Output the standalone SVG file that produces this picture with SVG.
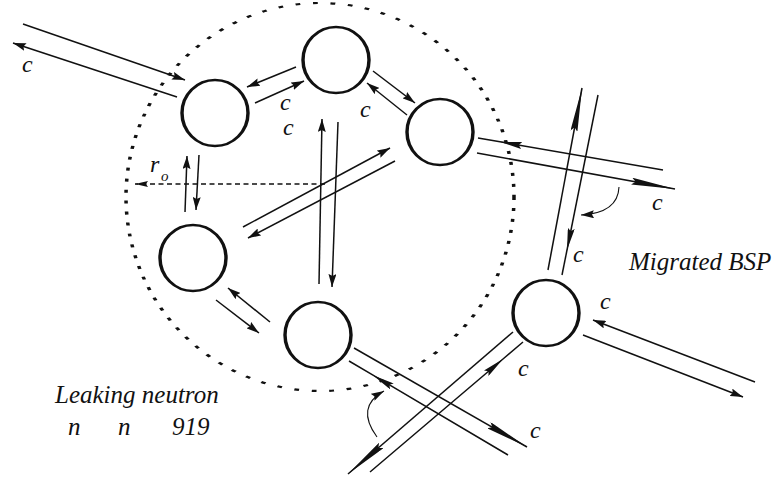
<svg xmlns="http://www.w3.org/2000/svg" width="776" height="480" viewBox="0 0 776 480">
<style>
.ln{fill:none;stroke:#111;stroke-width:1.5}
.arc{fill:none;stroke:#111;stroke-width:1.1}
.nd{fill:none;stroke:#111;stroke-width:2.3}
.t{font-family:"Liberation Serif","DejaVu Serif","Times New Roman",serif;font-style:italic;font-size:25px;fill:#111}
.c{font-family:"Liberation Serif","DejaVu Serif","Times New Roman",serif;font-style:italic;font-size:24px;fill:#111}
</style>
<defs>
<marker id="s" markerUnits="userSpaceOnUse" markerWidth="13" markerHeight="8" refX="13" refY="4" orient="auto"><path d="M0,0 L13,4 L0,8 L2,4 Z" fill="#111"/></marker>
<marker id="m" markerUnits="userSpaceOnUse" markerWidth="22" markerHeight="7" refX="22" refY="3.5" orient="auto"><path d="M0,0 L22,3.5 L0,7 L3,3.5 Z" fill="#111"/></marker>
<marker id="l" markerUnits="userSpaceOnUse" markerWidth="44" markerHeight="7" refX="44" refY="3.5" orient="auto"><path d="M0,0 L44,3.5 L0,7 L4,3.5 Z" fill="#111"/></marker>
<marker id="d" markerUnits="userSpaceOnUse" markerWidth="13" markerHeight="6" refX="13" refY="3" orient="auto"><path d="M0,0 L13,3 L0,6 L2,3 Z" fill="#111"/></marker>
</defs>
<rect width="776" height="480" fill="#fff"/>
<g id="boundary">
<ellipse cx="200" cy="197" rx="121.25" ry="194" transform="scale(1.6,1)" fill="none" stroke="#111" stroke-width="2.2" stroke-dasharray="3 8"/>
</g>
<g id="connectors">
<path class="ln" d="M23,24 L185,80" marker-end="url(#s)"/>
<path class="ln" d="M177,97 L13,43" marker-end="url(#s)"/>
<path class="ln" d="M296,67 L247,87" marker-end="url(#s)"/>
<path class="ln" d="M255,103 L304,81" marker-end="url(#s)"/>
<path class="ln" d="M373,71 L415,103" marker-end="url(#s)"/>
<path class="ln" d="M407,115 L367,83" marker-end="url(#s)"/>
<path class="ln" d="M319,284 L322,119" marker-end="url(#s)"/>
<path class="ln" d="M338,122 L332,287" marker-end="url(#s)"/>
<path class="ln" d="M243,227 L390,148" marker-end="url(#s)"/>
<path class="ln" d="M395,161 L248,238" marker-end="url(#s)"/>
<path class="ln" d="M185,212 L187,156" marker-end="url(#s)"/>
<path class="ln" d="M199,155 L196,210" marker-end="url(#s)"/>
<path class="ln" d="M216,300 L259,333" marker-end="url(#s)"/>
<path class="ln" d="M270,322 L228,288" marker-end="url(#s)"/>
<path class="ln" d="M663,170 L500,141.8 L478,138" marker-mid="url(#m)"/>
<path class="ln" d="M477,153 L675,189" marker-end="url(#l)"/>
<path class="ln" d="M548,270 L582,88" marker-end="url(#l)"/>
<path class="ln" d="M598,95 L567,250 L562,275" marker-mid="url(#m)"/>
<path class="ln" d="M513,332 L348,474" marker-end="url(#l)"/>
<path class="ln" d="M370,472 L503,359 L523,342" marker-mid="url(#m)"/>
<path class="ln" d="M354,348 L527,447" marker-end="url(#l)"/>
<path class="ln" d="M508,455 L373,375.2 L349,361" marker-mid="url(#m)"/>
<path class="ln" d="M755,382 L593,320" marker-end="url(#s)"/>
<path class="ln" d="M583,335 L743,397" marker-end="url(#s)"/>
<path class="arc" d="M619,187 Q618,213 581,215" marker-end="url(#s)"/>
<path class="arc" d="M377,437 Q355,407 384,391" marker-end="url(#s)"/>
<path class="ln" d="M325,184 L135,184" stroke-dasharray="5 3.5" stroke-width="1.8" marker-end="url(#d)"/>
</g>
<g id="n1" transform="translate(215,113)"><ellipse class="nd" rx="22" ry="33" transform="scale(1.5,1)"/></g>
<g id="n2" transform="translate(336,60)"><ellipse class="nd" rx="22" ry="33" transform="scale(1.5,1)"/></g>
<g id="n3" transform="translate(440,132)"><ellipse class="nd" rx="22" ry="33" transform="scale(1.5,1)"/></g>
<g id="n4" transform="translate(193,258)"><ellipse class="nd" rx="22" ry="33" transform="scale(1.5,1)"/></g>
<g id="n5" transform="translate(318,335)"><ellipse class="nd" rx="22" ry="33" transform="scale(1.5,1)"/></g>
<g id="n6" transform="translate(546,313)"><ellipse class="nd" rx="22" ry="33" transform="scale(1.5,1)"/></g>
<g id="labels">
<text class="c" x="22" y="72">c</text>
<text class="c" x="280" y="110">c</text>
<text class="c" x="283" y="135">c</text>
<text class="c" x="360" y="117">c</text>
<text class="c" x="652" y="210">c</text>
<text class="c" x="573" y="262">c</text>
<text class="c" x="600" y="309">c</text>
<text class="c" x="518" y="376">c</text>
<text class="c" x="530" y="438">c</text>
<text class="c" x="150" y="172">r</text>
<text class="c" x="161" y="181" style="font-size:15px">o</text>
<text class="t" x="629" y="270">Migrated BSP</text>
<text class="t" x="55" y="403">Leaking neutron</text>
<text class="t" x="68" y="435">n</text>
<text class="t" x="118" y="435">n</text>
<text class="t" x="172" y="435">919</text>
</g>
</svg>
